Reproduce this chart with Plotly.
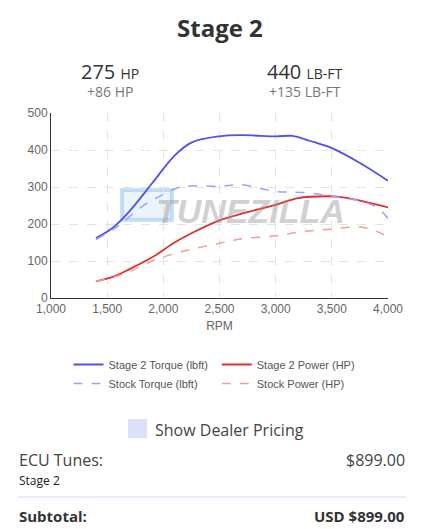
import plotly.graph_objects as go

rpm_t2 = [1400, 1550, 1700, 1900, 2100, 2250, 2500, 2700, 3000, 3150, 3300, 3500, 3750, 4000]
torque_t2 = [162, 190, 235, 310, 385, 420, 437, 440, 437, 438, 425, 405, 365, 317]
rpm_ts = [1400, 1600, 1800, 2000, 2150, 2250, 2500, 2700, 3000, 3250, 3500, 3750, 3900, 4000]
torque_stock = [158, 195, 245, 280, 300, 303, 302, 306, 288, 285, 275, 262, 245, 215]
rpm_p2 = [1400, 1550, 1700, 1900, 2100, 2250, 2500, 2700, 3000, 3200, 3450, 3600, 3800, 4000]
power_t2 = [45, 57, 78, 110, 150, 175, 210, 228, 252, 270, 275, 272, 260, 245]
rpm_ps = [1400, 1650, 1900, 2100, 2300, 2500, 2700, 3000, 3250, 3500, 3750, 3900, 4000]
power_stock = [45, 65, 100, 120, 135, 148, 160, 168, 180, 186, 192, 180, 165]

W, H = 421, 529
L, R, T, B = 51, 388, 113, 298


def py(y):
    return (B - y) / (B - T)


def px_(x):
    return (x - L) / (R - L)


fig = go.Figure()
fig.add_trace(go.Scatter(x=rpm_t2, y=torque_t2, name="Stage 2 Torque (lbft)", mode="lines",
                         line=dict(color="#5050ee", width=1.8, shape="spline")))
fig.add_trace(go.Scatter(x=rpm_p2, y=power_t2, name="Stage 2 Power (HP)", mode="lines",
                         line=dict(color="#dd3030", width=1.8, shape="spline")))
fig.add_trace(go.Scatter(x=rpm_ts, y=torque_stock, name="Stock Torque (lbft)", mode="lines",
                         line=dict(color="#a0a0f4", width=1.5, dash="dash", shape="spline")))
fig.add_trace(go.Scatter(x=rpm_ps, y=power_stock, name="Stock Power (HP)", mode="lines",
                         line=dict(color="#f0a098", width=1.5, dash="dash", shape="spline")))

grid = dict(showgrid=True, gridcolor="#e4e4e4", griddash="dash", zeroline=False,
            tickfont=dict(family="Liberation Sans, Arial", size=12, color="#666"),
            showline=True, linecolor="#333", linewidth=1, ticks="")
fig.update_xaxes(range=[1000, 4000], dtick=500, tickformat=",", title=dict(text="RPM", standoff=6,
                 font=dict(family="Liberation Sans", size=12, color="#666")), **grid)
fig.update_yaxes(range=[0, 500], dtick=100, **grid)

ui = "Open Sans"
ann = [
    dict(x=0.5, xref="paper", y=py(27), text="<b>Stage 2</b>", font=dict(family=ui, size=24, color="#333")),
    dict(x=px_(110), y=py(71), text="275 <span style='font-size:14px'>HP</span>", font=dict(family=ui, size=20, color="#333")),
    dict(x=px_(110), y=py(91), text="+86 HP", font=dict(family=ui, size=14, color="#777")),
    dict(x=px_(305), y=py(71), text="440 <span style='font-size:14px'>LB-FT</span>", font=dict(family=ui, size=20, color="#333")),
    dict(x=px_(305), y=py(91), text="+135 LB-FT", font=dict(family=ui, size=14, color="#777")),
    dict(x=px_(250), y=py(211), text="<b><i>TUNEZILLA</i></b>", font=dict(family="Liberation Sans", size=34, color="rgba(150,150,150,0.45)")),
    dict(x=px_(153), y=py(430), text="Show Dealer Pricing", xanchor="left", font=dict(family=ui, size=16, color="#444")),
    dict(x=px_(17), y=py(460), text="ECU Tunes:", xanchor="left", font=dict(family=ui, size=16, color="#444")),
    dict(x=px_(17), y=py(480), text="Stage 2", xanchor="left", font=dict(family=ui, size=12, color="#222")),
    dict(x=px_(407), y=py(460), text="$899.00", xanchor="right", font=dict(family=ui, size=16, color="#444")),
    dict(x=px_(17), y=py(516), text="<b>Subtotal:</b>", xanchor="left", font=dict(family=ui, size=15, color="#333")),
    dict(x=px_(407), y=py(516), text="<b>USD $899.00</b>", xanchor="right", font=dict(family=ui, size=15, color="#333")),
]
for a in ann:
    a.setdefault("xref", "paper")
    a.setdefault("xanchor", "center")
    fig.add_annotation(yref="paper", yanchor="middle", showarrow=False, **a)

# watermark logo block, checkbox and divider
fig.add_shape(type="rect", xref="paper", yref="paper", x0=px_(122), x1=px_(172), y0=py(220), y1=py(190),
              fillcolor="rgba(150,200,240,0.2)", line=dict(color="rgba(120,180,230,0.4)", width=4), layer="below")
fig.add_shape(type="rect", xref="paper", yref="paper", x0=px_(128), x1=px_(147), y0=py(438), y1=py(419),
              fillcolor="#dde1f8", line_width=0)
fig.add_shape(type="line", xref="paper", yref="paper", x0=px_(17), x1=px_(407), y0=py(497), y1=py(497),
              line=dict(color="#d6dcf0", width=1))

fig.update_layout(
    width=W, height=H, margin=dict(l=L, r=W - R, t=T, b=H - B),
    plot_bgcolor="white", paper_bgcolor="white",
    legend=dict(orientation="h", x=0.5, xanchor="center", y=py(350), yanchor="top",
                entrywidth=0.44, entrywidthmode="fraction", itemwidth=30,
                font=dict(family="Liberation Sans", size=11, color="#555")),
)
fig.write_html("out.html", config={"displayModeBar": False},
               post_script="document.body.style.margin='0';")
